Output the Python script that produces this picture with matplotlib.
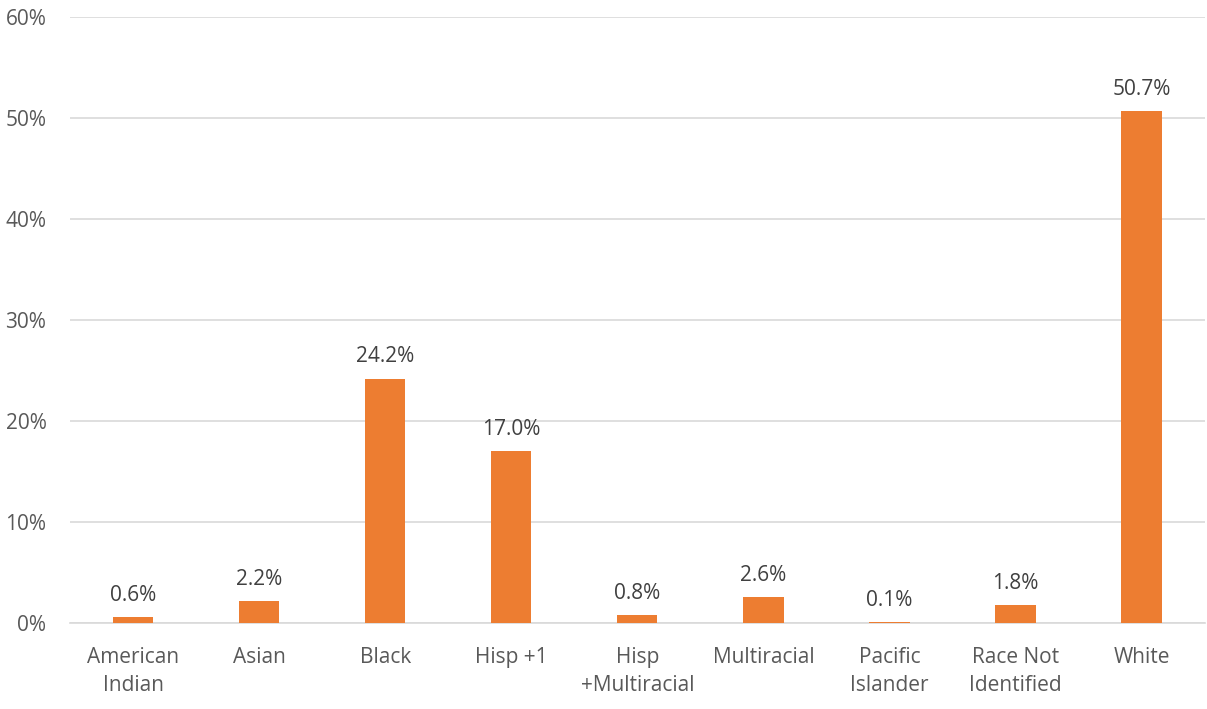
import matplotlib.pyplot as plt
from matplotlib.ticker import FuncFormatter

categories = ["American\nIndian", "Asian", "Black", "Hisp +1", "Hisp\n+Multiracial",
              "Multiracial", "Pacific\nIslander", "Race Not\nIdentified", "White"]
values = [0.6, 2.2, 24.2, 17.0, 0.8, 2.6, 0.1, 1.8, 50.7]

plt.rcParams["font.family"] = ["Open Sans", "DejaVu Sans"]
text_color = "#595959"

fig = plt.figure(figsize=(12.07, 7.09), dpi=100)
ax = fig.add_axes([0.058, 0.1213, 0.94, 0.8547])

x = range(len(categories))
bars = ax.bar(x, values, width=0.32, color="#ED7D31", zorder=3)
ax.bar_label(bars, labels=[f"{v:.1f}%" for v in values], padding=8,
             fontsize=15, color="#404040")

ax.set_xlim(-0.5, len(categories) - 0.5)
ax.set_ylim(0, 60)
ax.set_yticks(range(0, 61, 10))
ax.yaxis.set_major_formatter(FuncFormatter(lambda v, _: f"{v:.0f}%"))
ax.set_xticks(list(x))
ax.set_xticklabels(categories, linespacing=1.45)

ax.grid(axis="y", color="#D9D9D9", linewidth=1.2, zorder=0)
for side in ["top", "right", "left"]:
    ax.spines[side].set_visible(False)
ax.spines["bottom"].set_color("#D9D9D9")
ax.spines["bottom"].set_linewidth(1.2)
ax.tick_params(axis="both", length=0, labelsize=15, colors=text_color)
ax.tick_params(axis="x", pad=17)
ax.tick_params(axis="y", pad=17)

fig.savefig("out.png", dpi=100)
